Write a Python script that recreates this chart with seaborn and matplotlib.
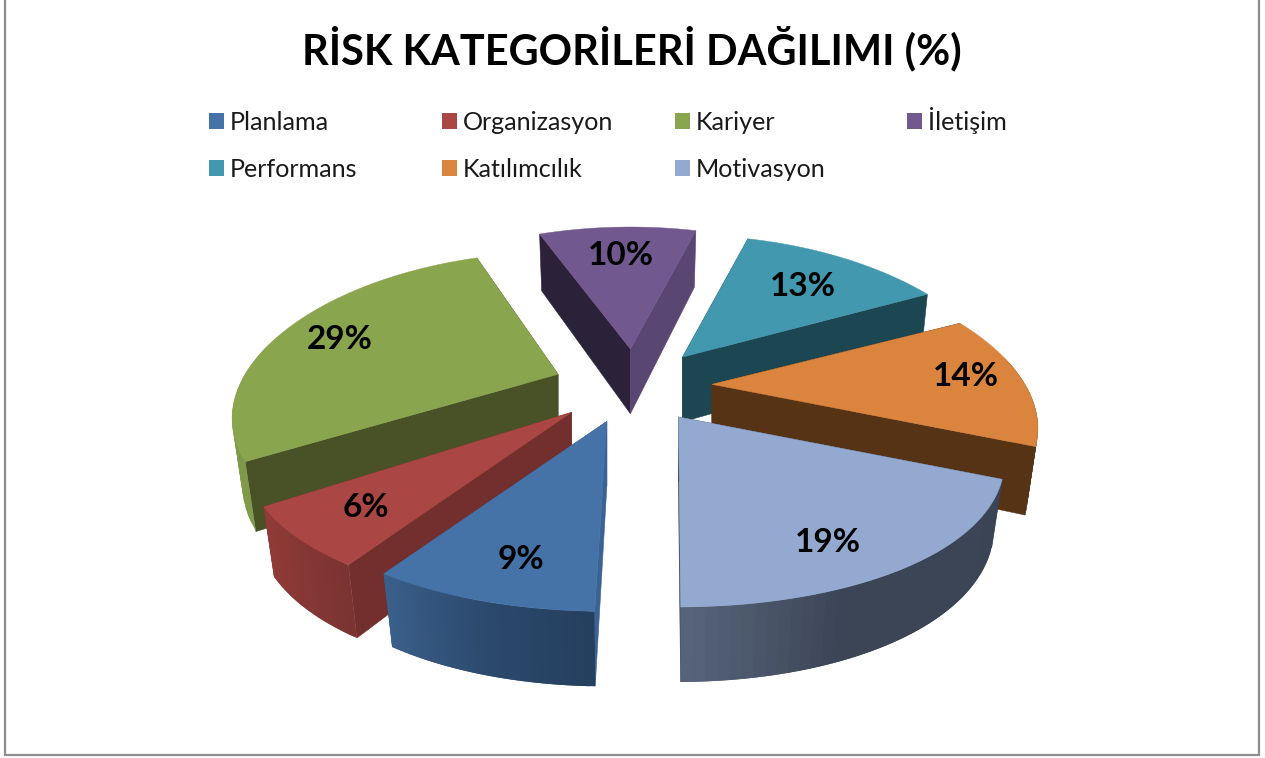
import numpy as np
import matplotlib
matplotlib.use("Agg")
import matplotlib.pyplot as plt
from matplotlib.patches import Polygon, Patch, Rectangle
import seaborn as sns

title = "RİSK KATEGORİLERİ DAĞILIMI (%)"
categories = ["Planlama", "Organizasyon", "Kariyer", "İletişim", "Performans", "Katılımcılık", "Motivasyon"]
shares = [8.9, 6.4, 29.1, 9.6, 13.0, 14.0, 19.0]

top_colors = ["#4572a7", "#aa4643", "#89a54e", "#71588f", "#4198af", "#db843d", "#93a9cf"]
wall_stops = [["#253f5e", "#2c4a6e", "#3a5f8a"],
              ["#7b3431", "#913b38"],
              ["#7f9a48", "#7a9446"],
              ["#5a4672", "#5a4672"],
              ["#1d4653", "#1d4653"],
              ["#573316", "#573316"],
              ["#3b4454", "#3c4556", "#3c4556", "#56637a"]]
edge_start = ["#3a6294", "#722f2d", "#485226", "#2b2138", "#1d4653", "#573316", "#3c4556"]
edge_end = ["#3a6294", "#722f2d", "#485226", "#5a4672", "#1d4653", "#573316", "#3c4556"]

sns.set_theme(style="white")
plt.rcParams["font.family"] = ["Lato", "DejaVu Sans"]

W, H = 1265, 758
CX, CY = 633, 386                 # pie centre
EX, EY = 79, 37                   # explosion offset of each apex
EXPLODE_X = [1.13, 1.11, 1, 1, 1, 1, 1.05]
A, B = 313, 148.6                 # rim radii
KX, KY = 0.28, 0.218              # perspective across and along
D, M = 66.6, 0.03                 # thickness and its perspective
T0 = 1.0                          # first slice angle, clockwise from the front
TRIM_START = [0.6, 0, 2.5, -2.3, 0, 1, 0]   # degrees, optical correction of each slice's edges
TRIM_END = [0, 0, 0, 0, 0, 0, 1.3]
LABEL_R = [0.80, 0.79, 0.785, 0.73, 0.69, 0.825, 0.81]
LABEL_TURN = [-1.5, 0, 0, -1, 1, -1, 5]


def project(t, r=1.0, z=0.0):
    u, v = -np.sin(t) * r, np.cos(t) * r
    return A * u / (1 - KX * v + M * z), (B * v + D * z) / (1 - KY * v + M * z)


fig = plt.figure(figsize=(W / 100, H / 100), dpi=100)
ax = fig.add_axes([0, 0, 1, 1])
ax.set_xlim(0, W)
ax.set_ylim(H, 0)
ax.axis("off")
ax.add_patch(Rectangle((5, -6), 1254, 761, fc="white", ec="#8e8e8e", lw=1.6))

fractions = np.array(shares) / sum(shares)
edges = np.radians(T0) + np.concatenate([[0], np.cumsum(fractions)]) * 2 * np.pi
mids = (edges[:-1] + edges[1:]) / 2

for i in np.argsort(np.cos(mids)):
    ax_ = CX - EX * EXPLODE_X[i] * np.sin(mids[i])
    ay_ = CY + EY * np.cos(mids[i])
    t0 = edges[i] + np.radians(TRIM_START[i])
    t1 = edges[i + 1] - np.radians(TRIM_END[i])
    ts = np.linspace(t0, t1, 41)
    tx, ty = project(ts)
    bx, by = project(ts, z=1)
    ox, oy = project(0, r=0, z=1)
    for t_edge, col in ((t0, edge_start[i]), (t1, edge_end[i])):
        px, py = project(t_edge)
        qx, qy = project(t_edge, z=1)
        ax.add_patch(Polygon([(ax_, ay_), (ax_ + px, ay_ + py), (ax_ + qx, ay_ + qy), (ax_ + ox, ay_ + oy)],
                             fc=col, ec=col, lw=0.4))
    wall = sns.blend_palette(wall_stops[i], len(ts) - 1)
    for j in range(len(ts) - 1):
        if np.cos(ts[j]) < -0.2:
            continue
        e = min(j + 2, len(ts) - 1)
        ax.add_patch(Polygon([(ax_ + tx[j], ay_ + ty[j]), (ax_ + tx[e], ay_ + ty[e]),
                              (ax_ + bx[e], ay_ + by[e]), (ax_ + bx[j], ay_ + by[j])],
                             fc=wall[j], ec="none", lw=0))
    top = [(ax_, ay_)] + list(zip(ax_ + tx, ay_ + ty))
    ax.add_patch(Polygon(top, fc=top_colors[i], ec=top_colors[i], lw=0.3))
    lx, ly = project(mids[i] + np.radians(LABEL_TURN[i]), r=LABEL_R[i])
    ax.text(ax_ + lx, ay_ + ly, f"{round(shares[i])}%", ha="center", va="center",
            fontsize=24, fontweight="bold", color="black", zorder=5)

ax.text(632, 64, title, ha="center", va="baseline", fontsize=29.9, fontweight="bold", color="black")

fs = 18.1
fs_px = fs * 100 / 72
column_x = [209, 442, 675, 907]
column_y = [110.5, 110.5, 110.5, 106.5]
for c, x in enumerate(column_x):
    idx = [n for n in range(len(categories)) if n % 4 == c]
    handles = [Patch(fc=top_colors[n], ec="none") for n in idx]
    leg = ax.legend(handles, [categories[n] for n in idx], loc="upper left",
                    bbox_to_anchor=(x, column_y[c]), bbox_transform=ax.transData,
                    frameon=False, borderpad=0, borderaxespad=0, fontsize=fs,
                    handlelength=15 / fs_px, handleheight=15 / fs_px,
                    handletextpad=6 / fs_px, labelspacing=0.97,
                    labelcolor="#1a1a1a")
    if c < len(column_x) - 1:
        ax.add_artist(leg)

fig.savefig("out.png", dpi=100, facecolor="white")
